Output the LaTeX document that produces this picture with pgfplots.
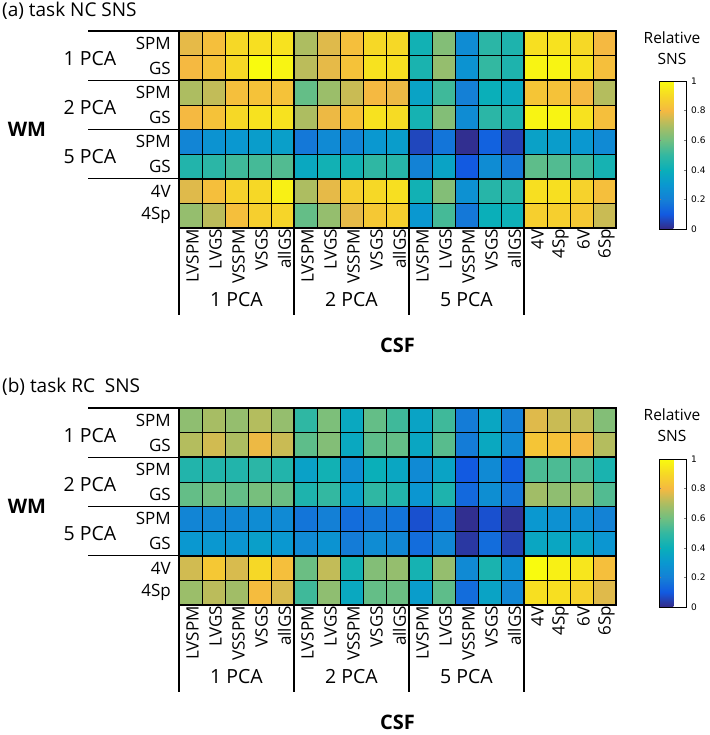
\documentclass[border=0pt]{standalone}
\usepackage{fontspec}
\setmainfont{Open Sans}
\newfontfamily\cbfont{DejaVu Sans}
\usepackage{pgfplots}
\pgfplotsset{compat=1.18}
\usepackage{pgfplotstable}

\pgfplotsset{
  colormap={parula}{rgb255=(53,42,135) rgb255=(18,90,225) rgb255=(20,128,214) rgb255=(10,152,208) rgb255=(10,175,185) rgb255=(51,184,161) rgb255=(113,191,128) rgb255=(173,189,97) rgb255=(245,185,65) rgb255=(246,216,38) rgb255=(249,251,14)},
  hm/.style={
    scale only axis, width=437pt, height=197pt,
    xmin=0.5, xmax=19.5, ymin=0.5, ymax=8.5, y dir=reverse,
    clip=false, axis on top,
    axis line style={line width=1.6pt},
    xtick={1,...,19},
    xticklabels={LVSPM,LVGS,VSSPM,VSGS,allGS,LVSPM,LVGS,VSSPM,VSGS,allGS,LVSPM,LVGS,VSSPM,VSGS,allGS,4V,4Sp,6V,6Sp},
    ytick={1,...,8},
    yticklabels={SPM,GS,SPM,GS,SPM,GS,4V,4Sp},
    major tick length=0pt,
    xticklabel style={rotate=90, anchor=east, font=\fontsize{17}{17}\selectfont, inner sep=1pt, yshift=-2pt},
    yticklabel style={font=\fontsize{17}{17}\selectfont, inner sep=0pt, xshift=-8pt},
    colormap name=parula, point meta min=0, point meta max=1,
    colorbar,
  },
  cbs/.style={
    scale only axis, width=27pt, height=148pt,
    at={(parent axis.south east)}, anchor=south west, xshift=34.5pt,
    ytick={0,0.2,0.4,0.6,0.8,1},
    yticklabels={0,0.2,0.4,0.6,0.8,1},
    yticklabel style={font=\cbfont\fontsize{9}{9}\selectfont, inner sep=0pt, xshift=5pt},
    major tick length=2pt, tick align=inside,
    axis line style={line width=0.8pt},
  },
}

\pgfplotstableread[row sep=\\]{
c\\
.78\\ .82\\ .90\\ .92\\ .93\\ .70\\ .77\\ .82\\ .90\\ .90\\ .42\\ .63\\ .25\\ .48\\ .45\\ .92\\ .93\\ .90\\ .80\\
.80\\ .83\\ .90\\ 1.0\\ .98\\ .72\\ .78\\ .83\\ .93\\ .92\\ .44\\ .66\\ .28\\ .50\\ .45\\ .98\\ .98\\ .93\\ .82\\
.70\\ .73\\ .82\\ .83\\ .83\\ .58\\ .67\\ .74\\ .80\\ .79\\ .35\\ .52\\ .20\\ .40\\ .38\\ .84\\ .83\\ .80\\ .71\\
.80\\ .83\\ .90\\ .93\\ .93\\ .70\\ .79\\ .83\\ .93\\ .91\\ .43\\ .63\\ .25\\ .48\\ .45\\ .98\\ .98\\ .93\\ .82\\
.22\\ .28\\ .30\\ .32\\ .33\\ .18\\ .24\\ .22\\ .30\\ .32\\ .06\\ .17\\ .01\\ .12\\ .05\\ .34\\ .32\\ .30\\ .24\\
.46\\ .48\\ .52\\ .53\\ .55\\ .37\\ .42\\ .42\\ .49\\ .47\\ .21\\ .35\\ .10\\ .25\\ .18\\ .57\\ .55\\ .52\\ .43\\
.77\\ .82\\ .88\\ .90\\ .97\\ .70\\ .78\\ .87\\ .90\\ .92\\ .42\\ .63\\ .27\\ .47\\ .47\\ .92\\ .92\\ .88\\ .82\\
.66\\ .72\\ .82\\ .87\\ .89\\ .58\\ .66\\ .78\\ .85\\ .87\\ .30\\ .53\\ .18\\ .40\\ .41\\ .87\\ .87\\ .85\\ .74\\
}\tabA

\pgfplotstableread[row sep=\\]{
c\\
.65\\ .69\\ .66\\ .71\\ .66\\ .49\\ .62\\ .37\\ .58\\ .52\\ .35\\ .52\\ .19\\ .36\\ .20\\ .77\\ .74\\ .73\\ .63\\
.71\\ .75\\ .70\\ .79\\ .74\\ .57\\ .63\\ .37\\ .57\\ .58\\ .36\\ .56\\ .19\\ .37\\ .24\\ .84\\ .83\\ .80\\ .71\\
.46\\ .46\\ .46\\ .48\\ .46\\ .34\\ .42\\ .26\\ .40\\ .36\\ .24\\ .35\\ .10\\ .24\\ .11\\ .54\\ .54\\ .54\\ .44\\
.58\\ .60\\ .58\\ .61\\ .59\\ .45\\ .50\\ .33\\ .49\\ .46\\ .29\\ .45\\ .14\\ .26\\ .17\\ .68\\ .65\\ .66\\ .55\\
.22\\ .23\\ .23\\ .25\\ .24\\ .17\\ .20\\ .15\\ .18\\ .17\\ .08\\ .17\\ .01\\ .08\\ .02\\ .30\\ .27\\ .26\\ .21\\
.30\\ .30\\ .29\\ .33\\ .30\\ .24\\ .28\\ .19\\ .25\\ .23\\ .15\\ .23\\ .03\\ .15\\ .05\\ .36\\ .36\\ .35\\ .29\\
.75\\ .85\\ .76\\ .90\\ .82\\ .59\\ .73\\ .42\\ .63\\ .66\\ .43\\ .66\\ .24\\ .44\\ .27\\ 1.0\\ .97\\ .94\\ .82\\
.67\\ .72\\ .68\\ .81\\ .76\\ .52\\ .65\\ .37\\ .58\\ .59\\ .32\\ .57\\ .15\\ .35\\ .23\\ .92\\ .92\\ .88\\ .77\\
}\tabB

\pgfplotstablecreatecol[expr={int(mod(\pgfplotstablerow,19)+1)}]{x}\tabA
\pgfplotstablecreatecol[expr={int(floor((\pgfplotstablerow+0.5)/19)+1)}]{y}\tabA
\pgfplotstablecreatecol[expr={int(mod(\pgfplotstablerow,19)+1)}]{x}\tabB
\pgfplotstablecreatecol[expr={int(floor((\pgfplotstablerow+0.5)/19)+1)}]{y}\tabB

\newcommand{\decor}{%
  \pgfplotsinvokeforeach{5.5,10.5,15.5}{\draw[line width=1.8pt] (axis cs:##1,0.5) -- (axis cs:##1,8.5);}
  \pgfplotsinvokeforeach{2.5,4.5,6.5}{\draw[line width=1.8pt] (axis cs:0.5,##1) -- (axis cs:19.5,##1);}
  \pgfplotsinvokeforeach{0.5,2.5,4.5,6.5}{\draw[line width=1.2pt] (axis cs:0.5,##1) -- ++(-91pt,0pt);}
  \pgfplotsinvokeforeach{0.5,5.5,10.5,15.5}{\draw[line width=1.2pt] (axis cs:##1,8.5) -- ++(0pt,-87pt);}
  \node[font=\fontsize{19.5}{19.5}\selectfont] at ([xshift=-89pt]axis cs:0.5,1.6) {1 PCA};
  \node[font=\fontsize{19.5}{19.5}\selectfont] at ([xshift=-89pt]axis cs:0.5,3.6) {2 PCA};
  \node[font=\fontsize{19.5}{19.5}\selectfont] at ([xshift=-89pt]axis cs:0.5,5.6) {5 PCA};
  \node[font=\fontsize{20}{20}\selectfont\bfseries] at ([xshift=-152pt]axis cs:0.5,4.5) {WM};
  \node[font=\fontsize{19.5}{19.5}\selectfont] at ([yshift=-72pt]axis cs:3,8.5) {1 PCA};
  \node[font=\fontsize{19.5}{19.5}\selectfont] at ([yshift=-72pt]axis cs:8,8.5) {2 PCA};
  \node[font=\fontsize{19.5}{19.5}\selectfont] at ([yshift=-72pt]axis cs:13,8.5) {5 PCA};
  \node[font=\fontsize{20}{20}\selectfont\bfseries, inner sep=1pt] at ([yshift=-117pt]axis cs:10,8.5) {CSF};
}

\begin{document}
\begin{tikzpicture}
\useasboundingbox (0,0) rectangle (709pt,735pt);

\node[anchor=west, font=\fontsize{19}{19}\selectfont, inner sep=0pt] at (2pt,724pt) {(a) task NC SNS};
\node[align=center, font=\fontsize{15.5}{21}\selectfont] at (672pt,687pt) {Relative\\SNS};
\begin{axis}[hm, at={(179pt,507pt)}, anchor=south west,
  colorbar style={cbs, yshift=-1pt}]
\addplot[matrix plot*, mesh/cols=19, point meta=explicit, draw=black, line width=0.7pt]
  table[x=x, y=y, meta=c] {\tabA};
\decor
\end{axis}

\node[anchor=west, font=\fontsize{19}{19}\selectfont, inner sep=0pt] at (2pt,348pt) {(b) task RC\ \ SNS};
\node[align=center, font=\fontsize{15.5}{21}\selectfont] at (672pt,310pt) {Relative\\SNS};
\begin{axis}[hm, at={(179pt,130pt)}, anchor=south west,
  colorbar style={cbs, yshift=-2pt}]
\addplot[matrix plot*, mesh/cols=19, point meta=explicit, draw=black, line width=0.7pt]
  table[x=x, y=y, meta=c] {\tabB};
\decor
\end{axis}
\end{tikzpicture}
\end{document}
